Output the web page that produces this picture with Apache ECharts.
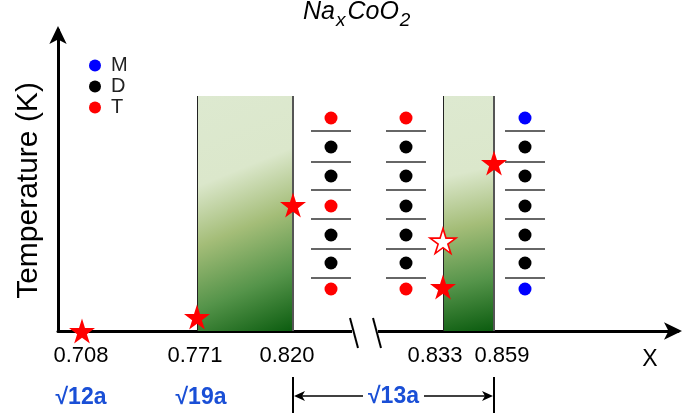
<!DOCTYPE html>
<html>
<head>
<meta charset="utf-8">
<script src="https://cdn.jsdelivr.net/npm/echarts@6/dist/echarts.min.js"></script>
<style>
html, body { margin: 0; padding: 0; background: #fff; }
#chart { width: 699px; height: 418px; }
</style>
</head>
<body>
<div id="chart"></div>
<script>
// schematic x axis (broken), units along the drawn axis
var xLabels = ['0.708', '0.771', '0.820', '0.833', '0.859'];
var xLabelAt = [23, 137, 229, 377, 444];
var boxes = [[139, 235], [385, 436]];      // shaded phase regions
var boxTop = 235;
var tcLabels = ['3K', '22K', '8K', '29K'];
var tcAt = [139, 241, 383, 439];
var tcY = 253;

// Tc stars [x, T]
var stars = [[24, 0], [139, 14], [235, 126], [385, 44], [436, 168]];
var openStars = [[385, 90]];

// stacking columns: M / D / T per layer
var colX = [273, 348, 467];
var rowY = [213, 184, 155, 125, 96, 68, 42];
var sepY = [200, 169, 141, 112, 82, 53];
var colLayers = [
    ['T', 'D', 'D', 'T', 'D', 'D', 'T'],
    ['T', 'D', 'D', 'D', 'D', 'D', 'T'],
    ['M', 'D', 'D', 'D', 'D', 'D', 'M']
];
var phases = ['M', 'D', 'T'];
var phaseColor = { M: '#0000ff', D: '#000000', T: '#ff0000' };

// superlattice labels
var lattice = ['√12a', '√19a', '√13a'];
var latticeAt = [23, 143];

var font = 'Arial, "Liberation Sans", sans-serif';
var starPath = 'path://M50,0 L61,35 L98,35 L68,57 L79,91 L50,70 L21,91 L32,57 L2,35 L39,35 Z';

var dotSeries = phases.map(function (p) {
    var pts = []
    for (var c = 0; c < colX.length; c++) {
        for (var r = 0; r < rowY.length; r++) {
            if (colLayers[c][r] === p) pts.push([colX[c], rowY[r]])
        }
    }
    return {
        name: p,
        type: 'scatter',
        symbol: 'circle',
        symbolSize: 13,
        itemStyle: { color: phaseColor[p], opacity: 1 },
        data: pts,
        z: 4
    }
});

var sepData = [];
colX.forEach(function (x) {
    sepY.forEach(function (y) { sepData.push([x, y]) })
});

var boxGradient = new echarts.graphic.LinearGradient(0, 0, 1, 1, [
    { offset: 0, color: '#dde9d0' },
    { offset: 0.33, color: '#dbe7cb' },
    { offset: 0.55, color: '#a4bd78' },
    { offset: 0.78, color: '#55944a' },
    { offset: 1, color: '#0b5c0f' }
]);

var edgeLines = [];
boxes.forEach(function (b) {
    edgeLines.push([{ coord: [b[0], 0], lineStyle: { color: '#222', width: 1 } }, { coord: [b[0], boxTop] }]);
    edgeLines.push([{ coord: [b[1], 0], lineStyle: { color: '#555', width: 2 } }, { coord: [b[1], boxTop] }]);
});

var chart = echarts.init(document.getElementById('chart'));

var option = {
    animation: false,
    backgroundColor: '#fff',
    textStyle: { fontFamily: font },
    title: {
        text: '{i|Na}{s|x}{i|CoO}{s|2}',
        left: 303,
        top: 0,
        padding: 0,
        textStyle: {
            fontWeight: 'normal',
            rich: {
                i: { fontFamily: font, fontStyle: 'italic', fontWeight: 'normal', fontSize: 25, color: '#000', lineHeight: 28, verticalAlign: 'top', padding: [0, 0, 0, 0] },
                s: { fontFamily: font, fontStyle: 'italic', fontWeight: 'normal', fontSize: 19, color: '#000', lineHeight: 28, verticalAlign: 'top', padding: [11, 2, 0, 1] }
            }
        }
    },
    legend: {
        data: phases,
        orient: 'vertical',
        left: 89,
        top: 55,
        padding: 0,
        icon: 'circle',
        itemWidth: 12,
        itemHeight: 12,
        itemGap: 0,
        textStyle: { fontSize: 20, lineHeight: 21, color: '#222', fontFamily: font, padding: [0, 0, 0, 5] }
    },
    grid: { left: 58, right: 21, top: 30, bottom: 87 },
    xAxis: {
        type: 'value',
        min: 0,
        max: 620,
        splitLine: { show: false },
        axisTick: { show: false },
        axisLine: {
            show: true,
            onZero: false,
            symbol: ['none', 'arrow'],
            symbolSize: [13, 18],
            symbolOffset: [0, 4],
            lineStyle: { color: '#000', width: 3 }
        },
        axisLabel: {
            customValues: xLabelAt,
            formatter: function (v) { return xLabels[xLabelAt.indexOf(v)] },
            color: '#000',
            fontSize: 22,
            margin: 14,
            fontFamily: font
        }
    },
    yAxis: {
        type: 'value',
        min: 0,
        max: 301,
        name: 'Temperature (K)',
        nameLocation: 'middle',
        nameRotate: 90,
        nameGap: 14,
        nameTextStyle: { fontSize: 30, lineHeight: 30, color: '#000', fontFamily: font, padding: [0, 20, 0, 0] },
        splitLine: { show: false },
        axisTick: { show: false },
        axisLabel: { show: false },
        axisLine: {
            show: true,
            onZero: false,
            symbol: ['none', 'arrow'],
            symbolSize: [13, 18],
            symbolOffset: [0, 4],
            lineStyle: { color: '#000', width: 3 }
        }
    },
    series: [
        {
            name: 'regions',
            type: 'scatter',
            data: [],
            silent: true,
            markArea: {
                silent: true,
                itemStyle: { color: boxGradient, opacity: 1 },
                data: boxes.map(function (b) {
                    return [{ coord: [b[0], 0] }, { coord: [b[1], boxTop] }]
                })
            },
            markLine: {
                silent: true,
                symbol: 'none',
                label: { show: false },
                lineStyle: { type: 'solid' },
                data: edgeLines
            }
        },
        {
            name: 'sep',
            type: 'custom',
            silent: true,
            renderItem: function (params, api) {
                var p = api.coord([api.value(0), api.value(1)])
                return {
                    type: 'line',
                    shape: { x1: p[0] - 20, y1: p[1], x2: p[0] + 20, y2: p[1] },
                    style: { stroke: '#333', lineWidth: 1.5 }
                }
            },
            data: sepData,
            z: 3
        },
        {
            name: 'Tc',
            type: 'scatter',
            symbol: 'none',
            symbolSize: 1,
            data: tcAt.map(function (x, i) { return { value: [x, tcY], label: { formatter: tcLabels[i] } } }),
            label: { show: true, position: 'inside', color: '#000', fontSize: 21, fontFamily: font },
            z: 5
        },
        {
            name: 'star',
            type: 'scatter',
            symbol: starPath,
            symbolSize: [26, 25],
            itemStyle: { color: '#ff0000', opacity: 1 },
            data: stars,
            z: 6
        },
        {
            name: 'openStar',
            type: 'scatter',
            symbol: starPath,
            symbolSize: [26, 25],
            itemStyle: { color: '#fff', borderColor: '#ff0000', borderWidth: 1.6, opacity: 1 },
            data: openStars,
            z: 6
        }
    ].concat(dotSeries)
};

chart.setOption(option);

// axis break, lattice labels and the √13a span, placed from axis values
function px(v) { return chart.convertToPixel({ xAxisIndex: 0 }, v) }
var y0 = chart.convertToPixel({ yAxisIndex: 0 }, 0);
var g1 = px(296), g2 = px(320);
var a1 = px(boxes[0][1]), a2 = px(boxes[1][1]);
var ay = 396;
var blue = '#1a4fd6';
var head = function (tip, dir) {
    return {
        type: 'polygon',
        shape: { points: [[tip, ay], [tip - dir * 11, ay - 5], [tip - dir * 8, ay], [tip - dir * 11, ay + 5]] },
        style: { fill: '#000' }
    }
};
var graphics = [
    { type: 'rect', shape: { x: g1 - 2, y: y0 - 3, width: g2 - g1 + 2, height: 6 }, style: { fill: '#fff' }, z: 100 },
    { type: 'line', shape: { x1: g1 - 4, y1: y0 - 13, x2: g1 + 4, y2: y0 + 17 }, style: { stroke: '#000', lineWidth: 2 }, z: 101 },
    { type: 'line', shape: { x1: g2 - 5, y1: y0 - 13, x2: g2 + 3, y2: y0 + 17 }, style: { stroke: '#000', lineWidth: 2 }, z: 101 },
    { type: 'text', x: px(592), y: y0 + 29, style: { text: 'X', font: '23px ' + font, fill: '#000', align: 'center', verticalAlign: 'middle' } },
    { type: 'line', shape: { x1: a1, y1: 377, x2: a1, y2: 413 }, style: { stroke: '#000', lineWidth: 2 } },
    { type: 'line', shape: { x1: a2, y1: 377, x2: a2, y2: 413 }, style: { stroke: '#000', lineWidth: 2 } },
    { type: 'line', shape: { x1: a1 + 3, y1: ay, x2: a2 - 3, y2: ay }, style: { stroke: '#000', lineWidth: 1.6 } },
    head(a1 + 1, -1),
    head(a2 - 1, 1),
    { type: 'text', x: (a1 + a2) / 2, y: ay + 1, z: 10, style: { text: lattice[2], font: 'bold 23px ' + font, fill: blue, align: 'center', verticalAlign: 'middle', backgroundColor: '#fff', padding: [0, 5] } }
];
latticeAt.forEach(function (x, i) {
    graphics.push({ type: 'text', x: px(x), y: 398, style: { text: lattice[i], font: 'bold 23px ' + font, fill: blue, align: 'center', verticalAlign: 'middle' } })
});
chart.setOption({ graphic: graphics });

window.addEventListener('resize', function () { chart.resize() });
</script>
</body>
</html>
